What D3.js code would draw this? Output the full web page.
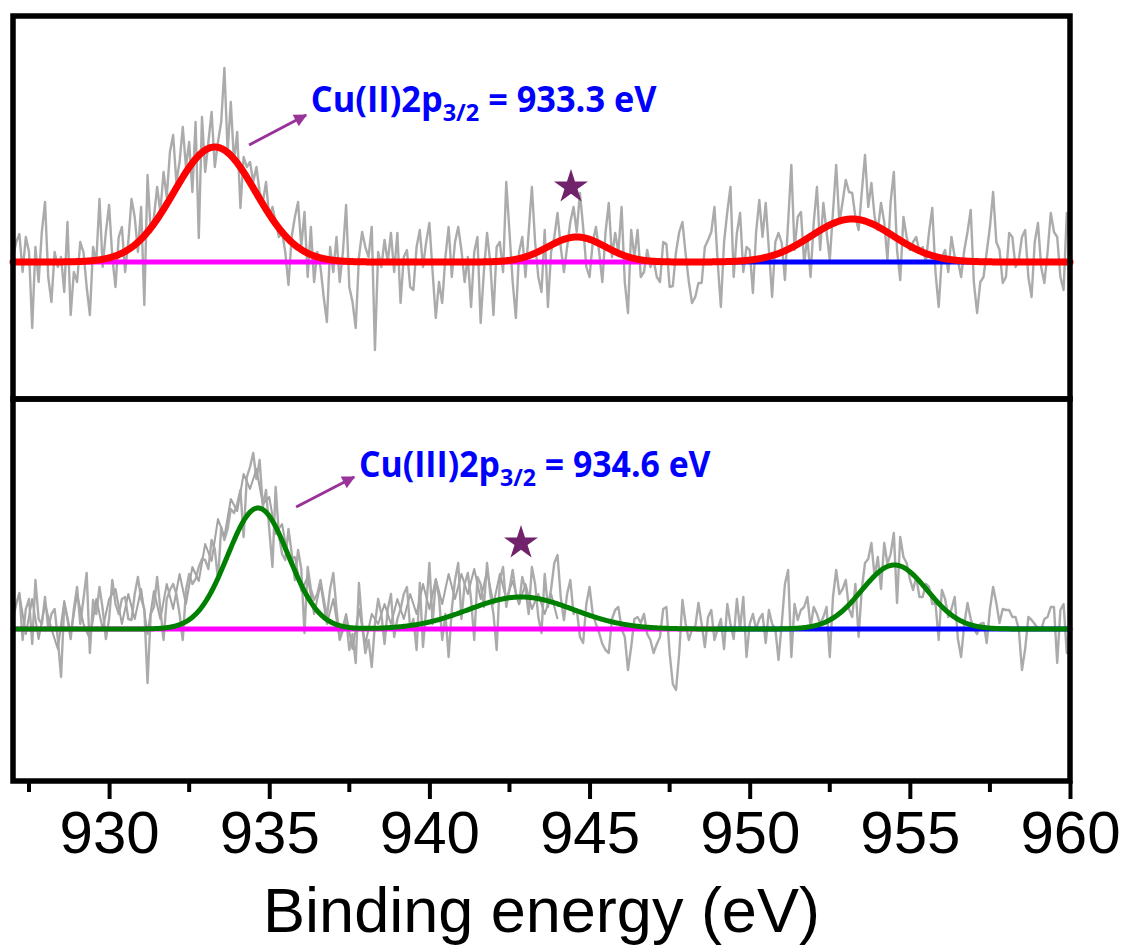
<!DOCTYPE html>
<html><head><meta charset="utf-8">
<script src="https://cdn.jsdelivr.net/npm/d3@7"></script>
<style>body{margin:0;background:#fff} svg{display:block}</style>
</head><body>
<svg id="chart" width="1122" height="948"></svg>
<script>
// ---------- data ----------
const energyStart = 927, energyStep = 0.1;

// Cu(II) sample, intensity above fitted background (arb. units), 927.0 -> 960.0 eV, 0.1 eV step
const topCounts = [
  5, 20, 28, -10, 25, 10, -66, 15, -20, 30,
  60, -15, -40, 10, -5, 5, -30, 40, -53, -10,
  -20, 20, 10, -25, -53, 15, 0, 63, -5, 30,
  57, 5, -25, 25, 35, -10, 20, 63, 45, 10,
  55, -43, 87, 30, 45, 75, 50, 90, 65, 110,
  127, 80, 100, 135, 95, 120, 70, 140, 24, 145,
  90, 120, 150, 95, 120, 140, 194, 110, 160, 100,
  130, 54, 105, 95, 100, 80, 95, 70, 60, 80,
  45, 55, 40, 25, 30, 10, -23, 25, 45, 60,
  15, 50, -15, 35, -20, 10, -5, -35, -60, 15,
  -10, 25, -20, 10, 57, -25, -40, -66, 5, 30,
  15, 5, 35, -88, 10, -5, 22, 0, 29, -10,
  29, -41, 5, 12, -25, -28, 15, 32, -5, 20,
  39, -10, -56, -20, -41, 5, 35, -15, 20, 35,
  12, -20, 5, -45, 10, 25, -61, -10, 29, 0,
  -53, 15, 20, -10, 80, 30, -20, -56, 10, 25,
  -15, 30, 75, 20, -15, -30, 32, -45, 10, 25,
  49, 15, -10, 15, 40, 55, 30, 69, 35, -5,
  -15, 20, 35, 10, -20, 30, 59, 5, 29, 10,
  55, -20, -51, 32, 5, 32, -15, -10, 12, -5,
  2, -15, -20, 20, 18, -25, -24, 10, 30, 40,
  8, -20, -41, -35, -21, -21, 15, 22, 30, 55,
  0, -45, 20, 50, 75, -15, 29, 49, -10, 15,
  12, -31, 30, 62, 25, 59, 12, -35, 20, 29,
  19, -18, 40, 97, 12, 45, 50, -1, 25, -15,
  40, 75, 12, 59, 30, 2, 50, 97, 39, 60,
  82, 70, 69, 45, 32, 70, 107, 55, 79, 45,
  32, 59, 40, 2, 60, 90, 12, -18, 45, 25,
  12, 20, 25, 10, 15, 0, 30, 54, -10, -45,
  5, 12, -10, 25, 5, 2, -15, 12, 30, 52,
  -21, -51, -20, -15, 10, 35, 70, 20, 12, -21,
  -15, 29, 25, -5, 2, 25, 32, -15, -35, 20,
  39, -5, -21, 10, 49, 30, 25, -15, -28, 49,
  12
];

// Cu(III) sample, 927.0 -> 960.0 eV, 0.1 eV step
const bottomCounts = [
  10, 25, 36, -11, 20, 30, -15, 49, 10, 5,
  32, 0, 15, 20, -10, -48, 25, 10, -10, 20,
  42, 5, 30, 56, -24, 29, 15, 42, 20, -10,
  10, 49, 25, 15, 30, 32, 10, 9, 35, 52,
  30, 20, -54, 15, 22, 52, 20, -11, 30, 39,
  45, 35, 15, -11, 39, 55, 45, 50, 62, 70,
  69, 60, 89, 80, 49, 102, 89, 100, 120, 116,
  125, 139, 92, 152, 162, 176, 150, 169, 122, 139,
  100, 62, 142, 95, 75, 69, 100, 76, 49, 79,
  60, -4, 62, 40, 29, 35, 49, 30, 12, 40,
  56, 20, -11, -1, 10, -21, -5, -34, 46, 5,
  -24, -11, -38, 5, 30, 15, -15, 20, 35, -8,
  10, 20, 35, 42, 0, 10, -21, 46, -18, 20,
  66, 5, 49, 32, -11, 15, -28, 20, 49, 66,
  10, 45, 56, 30, -11, 52, 45, 22, 66, 35,
  15, -21, 50, 62, 22, 40, 59, 35, 25, 52,
  40, 15, 62, 45, 12, -4, 55, 22, 40, 66,
  74, 32, 9, 35, 49, 15, 20, -8, -14, 25,
  42, 15, 5, -4, -15, -21, -24, 10, 19, 22,
  0, -8, -41, -18, 10, 12, 6, 15, -5, -11,
  -24, -15, -8, 20, 22, -24, -55, -61, -24, 29,
  5, -11, 0, 2, 26, 5, -18, 12, 19, -11,
  0, 10, -20, 25, 5, -10, 30, 0, 32, -28,
  5, 15, 0, 10, 15, -14, 19, 5, 0, -31,
  5, 45, 59, -28, 25, 9, 19, 22, 32, 2,
  22, 15, 5, 12, 22, -28, 32, 59, 35, 40,
  49, 20, 12, 45, -8, 40, 66, 70, 86, 52,
  72, 40, 86, 65, 75, 96, 26, 92, 72, 66,
  50, 39, 52, 32, 32, 45, 42, 25, 26, -11,
  39, 30, 12, 20, 32, -10, -28, 5, 26, 10,
  0, -5, 5, 6, -14, 20, 42, 26, 6, 20,
  19, 19, 12, 12, 0, -41, -20, 12, 9, 5,
  0, -1, 10, 12, 22, 22, -34, 19, 25, -24,
  5
];

// second (darker) overlapping Cu(III) scan, 927.0 -> 944.0 eV, 0.2 eV step
const bottomDarkStep = 0.2;
const bottomCountsDark = [
  15, 35, -5, 30, -10, 25, 0, -20, 28, -5,
  35, 5, -10, 30, 0, 30, 40, 5, 35, 10,
  40, -5, 38, 10, 45, 20, 55, 25, 62, 48,
  85, 68, 110, 92, 130, 118, 155, 140, 160, 125,
  132, 95, 105, 70, 72, 38, 52, 15, 45, 5,
  30, -10, 15, -20, 20, -15, 15, 5, 25, 5,
  30, 10, 35, 15, 45, 20, 50, 25, 55, 30,
  55, 35, 60, 30, 58, 25, 55, 30, 48, 25,
  45, 20, 35, 15, 35, 10
];

// Gaussian fit components: centre (eV), height, sigma (eV)
const topPeakCenters = [933.3, 944.6, 953.2];
const topPeakHeights = [115, 25, 43];
const topPeakSigmas  = [1.28, 0.9, 1.28];
const bottomPeakCenters = [934.65, 942.86, 954.52];
const bottomPeakHeights = [121, 32, 64];
const bottomPeakSigmas  = [0.95, 1.64, 1.02];

// background segments (2p3/2 region, 2p1/2 region)
const bgSegments = [[927, 949], [949, 960]];
const bgColors = ["#ff00ff", "#0000ff"];

const xMajorTicks = [930, 935, 940, 945, 950, 955, 960];
const xMinorTicks = [927.5, 932.5, 937.5, 942.5, 947.5, 952.5, 957.5];
const xTitle = "Binding energy (eV)";

const labelMain = ["Cu(II)2p", "Cu(III)2p"];
const labelSub = ["3/2", "3/2"];
const labelTail = [" = 933.3 eV", " = 934.6 eV"];
// annotation anchor positions in data coordinates [eV, intensity]
const labelPos = [[936.3, 150], [937.8, 152]];
const arrowFrom = [[934.37, 117], [935.84, 122]];
const arrowTo = [[936.15, 147], [937.65, 152]];
const starPos = [[944.42, 75], [942.86, 86]];

// ---------- layout ----------
const svg = d3.select("#chart");
const x = d3.scaleLinear().domain([927, 960]).range([13, 1070]);
const panels = [
  {counts: topCounts, centers: topPeakCenters, heights: topPeakHeights, sigmas: topPeakSigmas,
   fit: "#ff0000", fitW: 7, y: d3.scaleLinear().domain([-137, 246]).range([399, 16])},
  {counts: bottomCounts, centers: bottomPeakCenters, heights: bottomPeakHeights, sigmas: bottomPeakSigmas,
   fit: "#008000", fitW: 5, y: d3.scaleLinear().domain([-152, 230]).range([781, 399])}
];

const defs = svg.append("defs");
defs.append("marker").attr("id", "arr").attr("viewBox", "0 0 10 10")
  .attr("refX", 9).attr("refY", 5).attr("markerWidth", 15).attr("markerHeight", 13)
  .attr("markerUnits", "userSpaceOnUse").attr("orient", "auto")
  .append("path").attr("d", "M0,0 L10,5 L0,10 z").attr("fill", "#993399");

const fine = d3.range(927, 960.0001, 0.02);

panels.forEach((p, i) => {
  const g = svg.append("g");
  const line = d3.line().x(d => x(d[0])).y(d => p.y(d[1]));
  const pts = p.counts.map((v, k) => [energyStart + k * energyStep, v]);
  if (i === 1) {
    const dk = bottomCountsDark.map((v, k) => [energyStart + k * bottomDarkStep, v]);
    g.append("path").datum(dk).attr("d", line)
      .attr("fill", "none").attr("stroke", "#666").attr("stroke-width", 2).attr("opacity", 0.6)
      .attr("stroke-linejoin", "round");
  }
  g.append("path").datum(pts).attr("d", line)
    .attr("fill", "none").attr("stroke", "#a6a6a6").attr("stroke-width", 2.4)
    .attr("stroke-linejoin", "round").attr("opacity", 0.95);
  bgSegments.forEach((s, k) => {
    g.append("path").datum([[s[0], 0], [s[1], 0]]).attr("d", line)
      .attr("stroke", bgColors[k]).attr("stroke-width", 5).attr("fill", "none");
  });
  const env = fine.map(e => [e, d3.sum(p.centers, (c, j) =>
    p.heights[j] * Math.exp(-0.5 * Math.pow((e - c) / p.sigmas[j], 2)))]);
  g.append("path").datum(env).attr("d", line)
    .attr("fill", "none").attr("stroke", p.fit).attr("stroke-width", p.fitW)
    .attr("stroke-linecap", "round").attr("stroke-linejoin", "round");

  // star
  g.append("path").attr("d", d3.symbol(d3.symbolStar, 360)())
    .attr("transform", `translate(${x(starPos[i][0])},${p.y(starPos[i][1])})`)
    .attr("fill", "#70226b");
  // arrow
  g.append("line")
    .attr("x1", x(arrowFrom[i][0])).attr("y1", p.y(arrowFrom[i][1]))
    .attr("x2", x(arrowTo[i][0])).attr("y2", p.y(arrowTo[i][1]))
    .attr("stroke", "#993399").attr("stroke-width", 3).attr("marker-end", "url(#arr)");
  // label
  const lx = x(labelPos[i][0]), ly = p.y(labelPos[i][1]);
  const t = g.append("text").attr("x", lx).attr("y", ly)
    .attr("font-family", "'Open Sans', 'Noto Sans', sans-serif").attr("font-weight", "bold")
    .attr("font-size", 35).attr("fill", "#0000ff");
  t.append("tspan").text(labelMain[i]);
  t.append("tspan").attr("font-size", 24).attr("dy", 9).text(labelSub[i]);
  t.append("tspan").attr("dy", -9).text(labelTail[i]);
  const targetW = i === 0 ? 346 : 352;
  const w = t.node().getBBox().width;
  const k = targetW / w;
  t.attr("transform", `translate(${lx},0) scale(${k},1) translate(${-lx},0)`);
});

// frames
panels.forEach(p => {
  const [y0, y1] = p.y.range();
  svg.append("rect").attr("x", 13).attr("y", y1).attr("width", 1057).attr("height", y0 - y1)
    .attr("fill", "none").attr("stroke", "#000").attr("stroke-width", 5.5);
});

// x axis
const axisG = svg.append("g").attr("transform", "translate(0,781)");
axisG.call(d3.axisBottom(x).tickValues(xMajorTicks).tickSize(18).tickPadding(11).tickFormat(d3.format("d")))
  .call(g => g.select(".domain").remove())
  .call(g => g.selectAll(".tick line").attr("stroke", "#000").attr("stroke-width", 4))
  .call(g => g.selectAll(".tick text").attr("font-family", "'Liberation Sans', Arial, sans-serif")
        .attr("font-size", 60).attr("fill", "#000"));
axisG.selectAll(".minor").data(xMinorTicks).enter().append("line")
  .attr("x1", d => x(d)).attr("x2", d => x(d)).attr("y1", 0).attr("y2", 11)
  .attr("stroke", "#000").attr("stroke-width", 4);

svg.append("text").attr("x", (x.range()[0] + x.range()[1]) / 2).attr("y", 932)
  .attr("text-anchor", "middle").attr("font-family", "'Liberation Sans', Arial, sans-serif")
  .attr("font-size", 63).attr("fill", "#000").text(xTitle);
</script>
</body></html>
